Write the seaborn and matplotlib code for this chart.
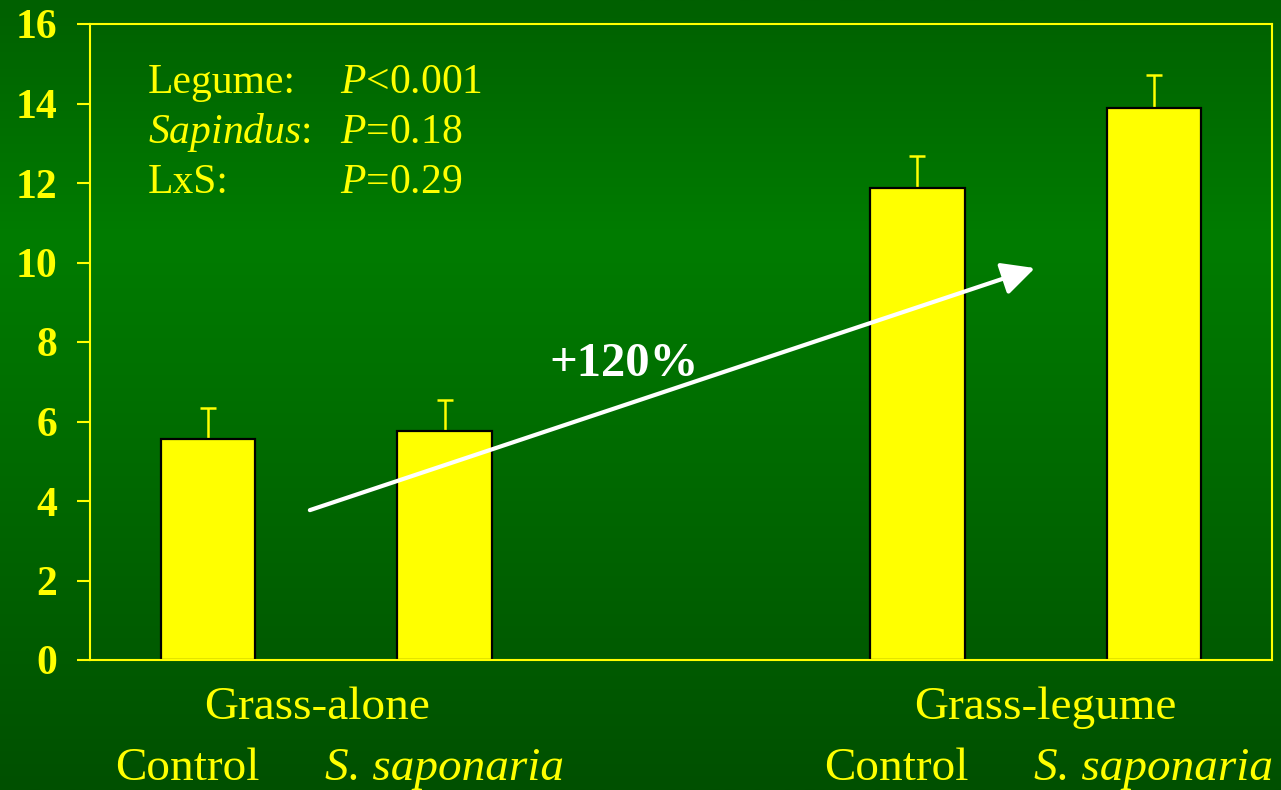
import numpy as np
import pandas as pd
import matplotlib
matplotlib.use("Agg")
import matplotlib.pyplot as plt
import matplotlib.transforms as mtransforms
import seaborn as sns

# bar data
groups = ["Grass-alone", "Grass-alone", "Grass-legume", "Grass-legume"]
treatments = ["Control", "S. saponaria", "Control", "S. saponaria"]
xpos = [0, 1, 3, 4]
means = [5.55, 5.75, 11.87, 13.88]
se = [0.80, 0.80, 0.82, 0.84]

group_labels = ["Grass-alone", "Grass-legume"]
group_centers = [0.46, 3.54]

stat_names = ["Legume:", r"$\mathit{Sapindus}$:", "LxS:"]
stat_values = [r"$\mathit{P}$<0.001", r"$\mathit{P}$=0.18", r"$\mathit{P}$=0.29"]

yticks = [0, 2, 4, 6, 8, 10, 12, 14, 16]

YEL = "#ffff00"

sns.set_style("white")
plt.rcParams['font.family'] = ['Liberation Serif', 'DejaVu Serif']
plt.rcParams['mathtext.fontset'] = 'custom'
plt.rcParams['mathtext.rm'] = 'Liberation Serif'
plt.rcParams['mathtext.it'] = 'Liberation Serif:italic'

fig = plt.figure(figsize=(12.81, 7.90), dpi=100)

# green gradient background
bg = fig.add_axes([0, 0, 1, 1], zorder=-10)
stops_y = [0.0, 0.30, 1.0]
stops_g = [96, 124, 80]
yy = np.linspace(0, 1, 400)
g = np.interp(yy, stops_y, stops_g) / 255.0
img = np.zeros((400, 1, 3))
img[:, 0, 1] = g
bg.imshow(img, aspect="auto", extent=[0, 1, 0, 1])
bg.axis("off")

ax = fig.add_axes([90 / 1281, 1 - 660 / 790, (1272 - 90) / 1281, (660 - 24) / 790])
ax.set_facecolor("none")

df = pd.DataFrame({"x": xpos, "mean": means, "group": groups, "treat": treatments})

sns.barplot(data=df, x="x", y="mean", native_scale=True, width=0.4,
            color=YEL, saturation=1, edgecolor="black", linewidth=1.6,
            errorbar=None, ax=ax, zorder=2)

ax.errorbar(xpos, means, yerr=[np.zeros(len(se)), se], fmt="none",
            ecolor=YEL, elinewidth=1.8, capsize=5.5, capthick=1.8, zorder=1)

ax.set_xlim(-0.5, 4.5)
ax.set_ylim(0, 16)
ax.set_yticks(yticks)
ax.set_yticklabels([str(t) for t in yticks], fontsize=30, fontweight="bold", color=YEL)
ax.tick_params(axis="y", left=True, direction="out", length=9.5, width=1.5,
               color=YEL, pad=14)
ax.tick_params(axis="x", bottom=False, length=0)
ax.set_xticks([])
ax.set_xlabel("")
ax.set_ylabel("")
for s in ax.spines.values():
    s.set_color(YEL)
    s.set_linewidth(1.5)
    s.set_visible(True)

# category labels under bars
trans = mtransforms.blended_transform_factory(ax.transData, ax.transAxes)
for x, t in zip(xpos, treatments):
    if t == "Control":
        ax.text(x - 0.09, -0.1887, t, transform=trans, ha="center", va="baseline",
                fontsize=34, color=YEL)
    else:
        ax.text(x, -0.1887, t, transform=trans, ha="center", va="baseline",
                fontsize=34, color=YEL, style="italic")
for x, t in zip(group_centers, group_labels):
    ax.text(x, -0.092, t, transform=trans, ha="center", va="baseline",
            fontsize=34, color=YEL)

# stats block
for i, (n, v) in enumerate(zip(stat_names, stat_values)):
    yb = 1 - (93 - 24 + i * 50) / 636
    ax.text((148 - 90) / 1182, yb, n, transform=ax.transAxes, ha="left",
            va="baseline", fontsize=30, color=YEL)
    ax.text((340 - 90) / 1182, yb, v, transform=ax.transAxes, ha="left",
            va="baseline", fontsize=30, color=YEL)

# arrow and percentage
ax.annotate("", xy=(3.497, 9.86), xytext=(0.43, 3.77),
            arrowprops=dict(arrowstyle="-|>,head_length=0.5,head_width=0.25",
                            color="white", lw=3, mutation_scale=40,
                            shrinkA=0, shrinkB=0))
ax.text(1.758, 7.15, "+120%", ha="center", va="baseline", fontsize=35,
        fontweight="bold", color="white")

fig.savefig("out.png", dpi=100)
